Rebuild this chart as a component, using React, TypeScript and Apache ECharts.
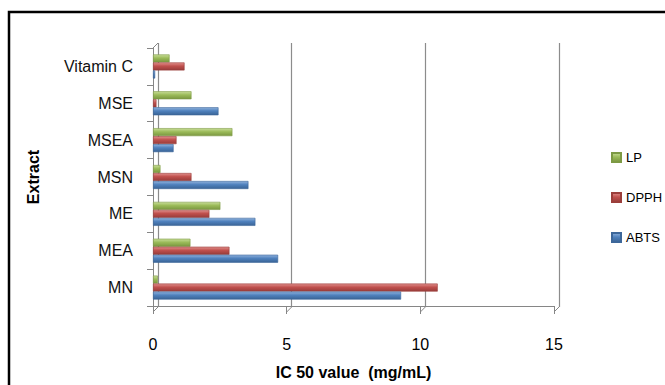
import React, { useEffect, useRef } from "react";
import * as echarts from "echarts";

// Extracts, listed bottom to top on the category axis
const extracts = ["MN", "MEA", "ME", "MSN", "MSEA", "MSE", "Vitamin C"];

// IC 50 values (mg/mL) per assay
const abts = [9.28, 4.68, 3.83, 3.57, 0.77, 2.45, 0.08];
const dpph = [10.65, 2.86, 2.11, 1.44, 0.88, 0.13, 1.18];
const lp = [0.18, 1.4, 2.52, 0.28, 2.97, 1.44, 0.62];

const xTicks = [0, 5, 10, 15];

const FONT = "Liberation Sans";

function shade(top: string, mid: string, bottom: string) {
  return new echarts.graphic.LinearGradient(0, 0, 0, 1, [
    { offset: 0, color: top },
    { offset: 0.45, color: mid },
    { offset: 1, color: bottom },
  ]);
}

export default function App() {
  const ref = useRef<HTMLDivElement>(null);

  useEffect(() => {
    if (!ref.current) return;
    const chart = echarts.init(ref.current, null, { renderer: "svg" });

    const barSeries = (name: string, data: number[], fill: any, edge: string) => ({
      name,
      type: "bar",
      xAxisIndex: 0,
      yAxisIndex: 0,
      data,
      barWidth: 8,
      barGap: "0%",
      itemStyle: { color: fill, borderColor: edge, borderWidth: 0.6 },
    });

    chart.setOption({
      animation: false,
      backgroundColor: "#ffffff",
      grid: [
        // front plane: axes and bars
        { left: 153, top: 48, width: 401, height: 264, containLabel: false },
        // back wall: gridlines only
        { left: 158, top: 43, width: 401, height: 264, containLabel: false },
      ],
      legend: {
        orient: "vertical",
        left: 611,
        top: 151,
        padding: 0,
        itemWidth: 9,
        itemHeight: 9,
        itemGap: 27,
        icon: "rect",
        data: ["LP", "DPPH", "ABTS"],
        textStyle: { fontFamily: FONT, fontSize: 13, color: "#000" },
      },
      xAxis: [
        {
          type: "value",
          gridIndex: 0,
          min: 0,
          max: 15,
          interval: 5,
          axisLine: { show: true, lineStyle: { color: "#868686", width: 1 } },
          axisTick: { show: true, length: 8, lineStyle: { color: "#868686" } },
          axisLabel: { fontFamily: FONT, fontSize: 16, color: "#000", margin: 30 },
          splitLine: { show: false },
          name: "IC 50 value  (mg/mL)",
          nameLocation: "middle",
          nameGap: 58,
          nameTextStyle: { fontFamily: FONT, fontSize: 16, fontWeight: "bold", color: "#000" },
        },
        {
          type: "value",
          gridIndex: 1,
          min: 0,
          max: 15,
          interval: 5,
          axisLine: { show: false },
          axisTick: { show: false },
          axisLabel: { show: false },
          splitLine: { show: true, lineStyle: { color: "#8c8c8c", width: 1.2 } },
        },
      ],
      yAxis: [
        {
          type: "category",
          gridIndex: 0,
          data: extracts,
          boundaryGap: true,
          axisLine: { show: true, lineStyle: { color: "#868686", width: 1 } },
          axisTick: { show: true, length: 6, lineStyle: { color: "#868686" } },
          axisLabel: { fontFamily: FONT, fontSize: 16, color: "#111", margin: 20 },
          name: "Extract",
          nameLocation: "middle",
          nameRotate: 90,
          nameGap: 112,
          nameTextStyle: { fontFamily: FONT, fontSize: 16, fontWeight: "bold", color: "#000" },
        },
        {
          type: "category",
          gridIndex: 1,
          data: extracts,
          show: false,
        },
      ],
      // within each band the first series sits on top
      series: [
        barSeries("LP", lp, shade("#c8dd98", "#9bbb59", "#7a9740"), "#7d9a44"),
        barSeries("DPPH", dpph, shade("#e08f8c", "#c0504d", "#983c3a"), "#9b3e3b"),
        barSeries("ABTS", abts, shade("#8fb1dc", "#4f81bd", "#3a6496"), "#3d679a"),
      ],
      color: ["#9bbb59", "#c0504d", "#4f81bd"],
    });

    // floor edges joining the front axis to the back wall, plus the outer frame
    const depthX = 5;
    const depthY = 5;
    const floorLines = xTicks.map((v) => {
      const [px] = chart.convertToPixel({ xAxisIndex: 0, yAxisIndex: 0 }, [v, 0]) as number[];
      const baseY = 312;
      return {
        type: "line",
        shape: { x1: px, y1: baseY, x2: px + depthX, y2: baseY - depthY },
        style: { stroke: "#868686", lineWidth: 1 },
        silent: true,
      };
    });
    chart.setOption({
      graphic: [
        ...floorLines,
        {
          type: "line",
          shape: { x1: 153, y1: 48, x2: 153 + depthX, y2: 48 - depthY },
          style: { stroke: "#868686", lineWidth: 1 },
          silent: true,
        },
        {
          type: "rect",
          shape: { x: 9, y: 12, width: 800, height: 500 },
          style: { fill: "none", stroke: "#000", lineWidth: 2.5 },
          silent: true,
        },
      ],
    });

    return () => chart.dispose();
  }, []);

  return (
    <div
      ref={ref}
      style={{ position: "fixed", left: 0, top: 0, width: 665, height: 385 }}
    />
  );
}
